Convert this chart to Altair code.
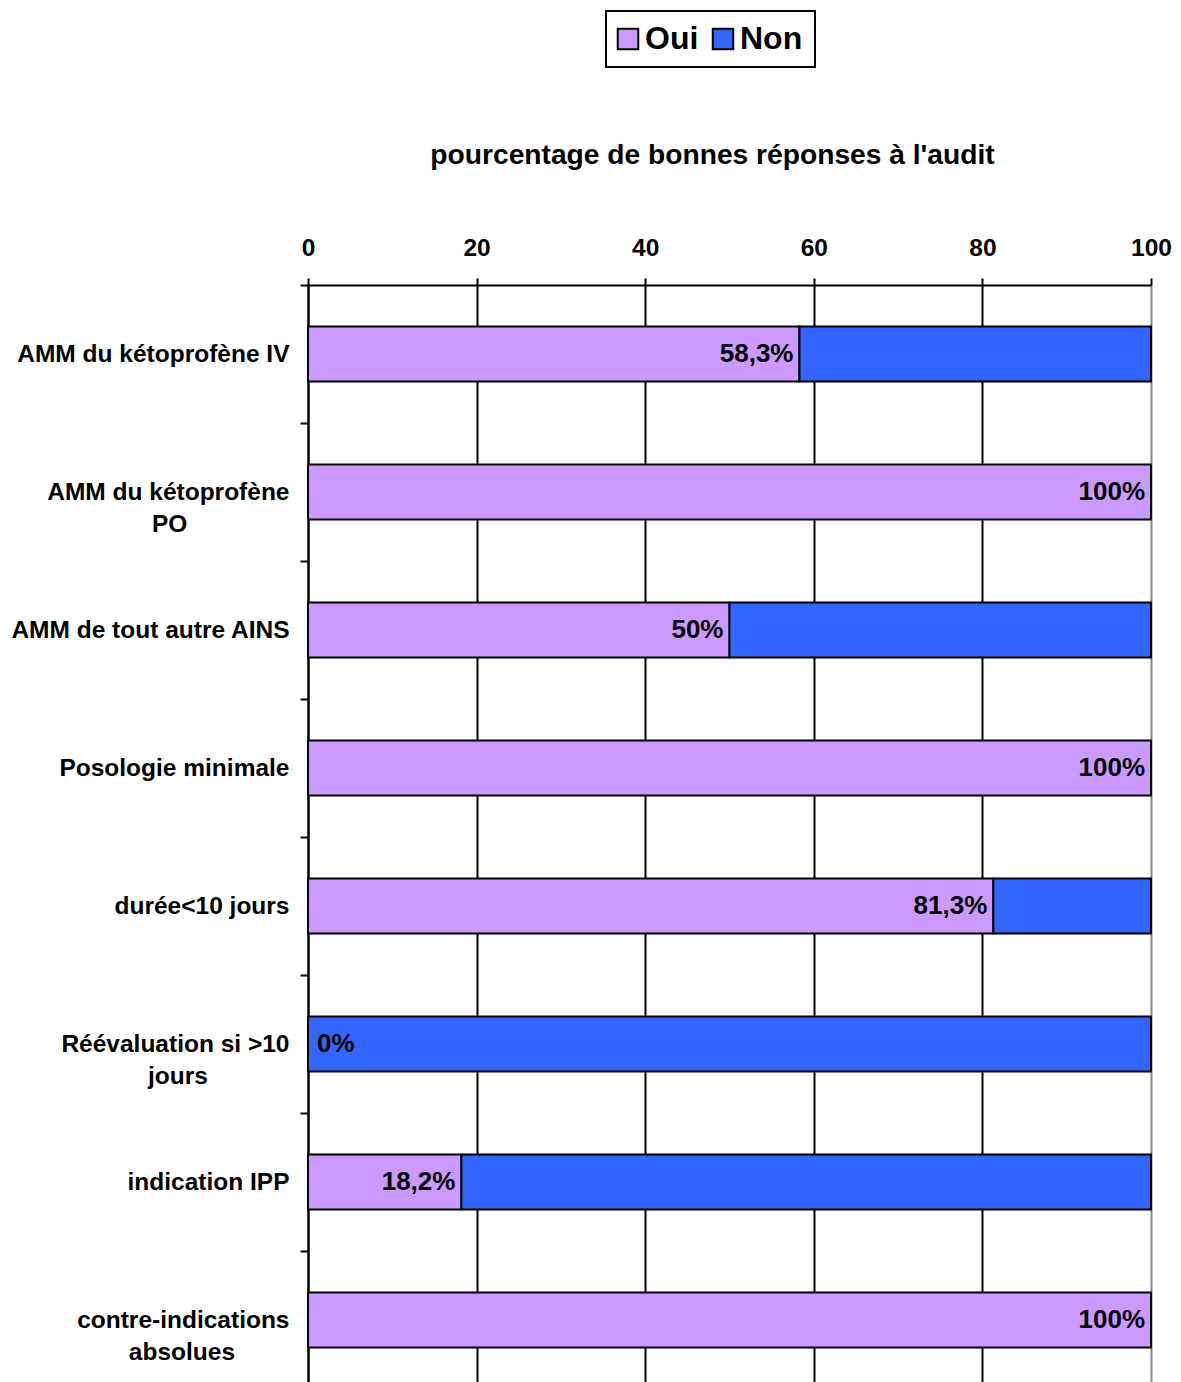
import altair as alt
import pandas as pd

categories = [
    "AMM du kétoprofène IV",
    "AMM du kétoprofène PO",
    "AMM de tout autre AINS",
    "Posologie minimale",
    "durée<10 jours",
    "Réévaluation si >10 jours",
    "indication IPP",
    "contre-indications absolues",
]
oui_values = [58.3, 100, 50, 100, 81.3, 0, 18.2, 100]
non_values = [41.7, 0, 50, 0, 18.7, 100, 81.8, 0]
oui_labels = ["58,3%", "100%", "50%", "100%", "81,3%", "0%", "18,2%", "100%"]
x_ticks = [0, 20, 40, 60, 80, 100]
responses = ["Oui", "Non"]
colors = ["#CC99FF", "#3366FF"]
chart_title = "pourcentage de bonnes réponses à l'audit"

NB = "\u00a0"
ZW = "\u200b"
# wrapped axis labels (second line centred under the first)
wrapped = {
    "AMM du kétoprofène PO": "AMM du kétoprofène|PO" + NB * 15 + ZW,
    "Réévaluation si >10 jours": "Réévaluation si >10|jours" + NB * 12 + ZW,
    "contre-indications absolues": "contre-indications|absolues" + NB * 8 + ZW,
}
display = [wrapped.get(c, c) for c in categories]

rows = []
for d, o, n in zip(display, oui_values, non_values):
    rows.append({"cat": d, "response": "Oui", "value": o, "ord": 0})
    rows.append({"cat": d, "response": "Non", "value": n, "ord": 1})
bars_df = pd.DataFrame(rows)
bars_df = bars_df[bars_df["value"] > 0]

lab_df = pd.DataFrame({"cat": display, "oui": oui_values, "label": oui_labels})

FONT = "Liberation Sans"
W, H = 843, 1104
STEP = H / len(categories)
PAD_IN, PAD_OUT = 0.6, 0.3
HALF_GAP = PAD_OUT * STEP

y_enc = alt.Y(
    "cat:N",
    sort=display,
    title=None,
    scale=alt.Scale(paddingInner=PAD_IN, paddingOuter=PAD_OUT),
    axis=alt.Axis(
        orient="left",
        labelExpr="split(datum.label, '|')",
        labelFont=FONT,
        labelFontSize=24.5,
        labelFontWeight="bold",
        labelColor="black",
        labelLimit=500,
        labelPadding=11,
        labelLineHeight=32,
        bandPosition=0,
        tickExtra=False,
        tickOffset=-HALF_GAP,
        labelOffset=HALF_GAP,
        tickSize=8,
        tickWidth=2,
        tickColor="black",
        domainColor="black",
        domainWidth=2,
        grid=False,
    ),
)

bars = alt.Chart(bars_df).mark_bar(stroke="black", strokeWidth=2).encode(
    x=alt.X(
        "value:Q",
        stack="zero",
        scale=alt.Scale(domain=[0, 100], nice=False),
        axis=alt.Axis(
            orient="top",
            values=x_ticks,
            title=chart_title,
            titleFont=FONT,
            titleFontSize=28.2,
            titleFontWeight="bold",
            titleColor="black",
            titleAlign="center",
            titleBaseline="alphabetic",
            titleX=404,
            titleY=-122,
            labelFlush=False,
            labelFont=FONT,
            labelFontSize=24.5,
            labelFontWeight="bold",
            labelColor="black",
            labelPadding=18,
            tickSize=7,
            tickWidth=2,
            tickColor="black",
            domainColor="black",
            domainWidth=2,
            grid=True,
            gridColor={"expr": "datum.value == 100 ? '#888888' : 'black'"},
            gridWidth=2,
            gridOpacity=1,
        ),
    ),
    y=y_enc,
    color=alt.Color(
        "response:N",
        scale=alt.Scale(domain=responses, range=colors),
        legend=alt.Legend(
            title=None,
            orient="none",
            legendX=298,
            legendY=-274,
            direction="horizontal",
            strokeColor="black",
            padding=12,
            symbolType="square",
            symbolSize=420,
            symbolOffset=-6,
            symbolStrokeColor="black",
            symbolStrokeWidth=2,
            symbolOpacity=1,
            labelFont=FONT,
            labelFontSize=32,
            labelFontWeight="bold",
            labelColor="black",
            labelOffset=1,
            columnPadding=9,
        ),
    ),
    order=alt.Order("ord:Q"),
)

text_right = alt.Chart(lab_df).transform_filter("datum.oui > 0").mark_text(
    align="right", baseline="middle", dx=-6, font=FONT, fontSize=26,
    fontWeight="bold", color="black"
).encode(x="oui:Q", y=alt.Y("cat:N", sort=display), text="label:N")

text_left = alt.Chart(lab_df).transform_filter("datum.oui == 0").mark_text(
    align="left", baseline="middle", dx=9, font=FONT, fontSize=26,
    fontWeight="bold", color="black"
).encode(x="oui:Q", y=alt.Y("cat:N", sort=display), text="label:N")

chart = alt.layer(bars, text_right, text_left).properties(
    width=W,
    height=H,
    autosize=alt.AutoSizeParams(type="none"),
    padding={"left": 300, "top": 277, "right": 21, "bottom": 0},
).configure_view(stroke=None).configure_legend(strokeWidth=2)

chart.save("out.html", embed_options={"renderer": "svg", "actions": False})
